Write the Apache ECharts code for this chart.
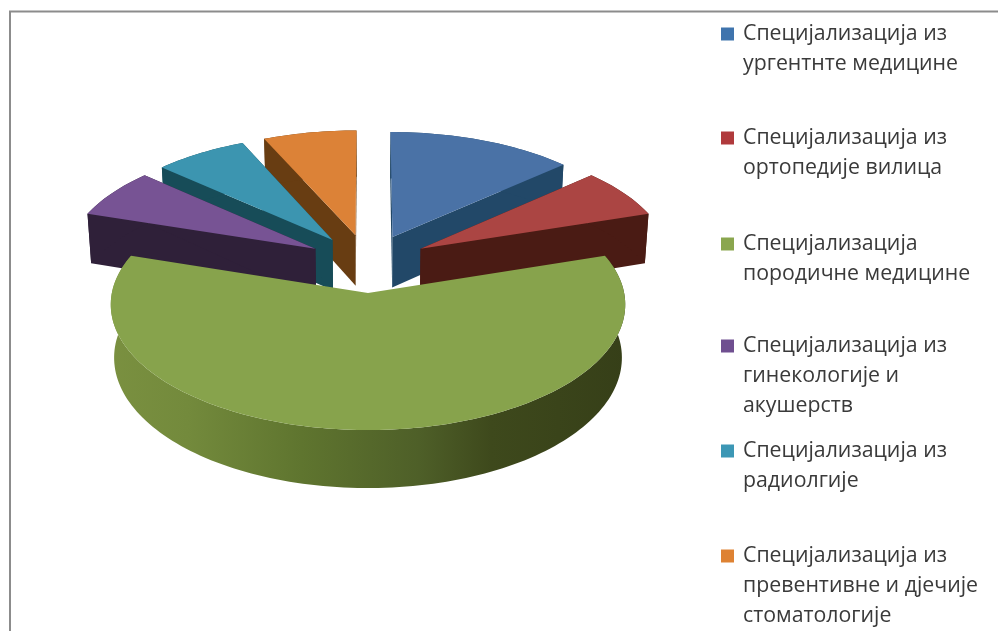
<!DOCTYPE html>
<html><head><meta charset="utf-8">
<style>html,body{margin:0;padding:0;background:#fff}#c{width:998px;height:631px}</style>
<script src="https://cdn.jsdelivr.net/npm/echarts@6/dist/echarts.min.js"></script>
</head><body><div id="c"></div>
<script>
const categories = [
  'Специјализација из ургентнте медицине',
  'Специјализација из ортопедије вилица',
  'Специјализација породичне медицине',
  'Специјализација из гинекологије и акушерств',
  'Специјализација из радиолгије',
  'Специјализација из превентивне и дјечије стоматологије'
];
const values = [2, 1, 9, 1, 1, 1];
const legendLines = [
  ['Специјализација из', 'ургентнте медицине'],
  ['Специјализација из', 'ортопедије вилица'],
  ['Специјализација', 'породичне медицине'],
  ['Специјализација из', 'гинекологије и', 'акушерств'],
  ['Специјализација из', 'радиолгије'],
  ['Специјализација из', 'превентивне и дјечије', 'стоматологије']
];
const topColors  = ['#4a72a6', '#ab4543', '#87a34c', '#775394', '#3c95b0', '#dc8237'];
const sideColors = ['#224868', '#4a1b14', '#5f752f', '#2f2039', '#174c58', '#683d12'];
const iconColors = ['#3f74ad', '#b03a3c', '#8aa64e', '#6f4f90', '#3c97b5', '#de8233'];
const legendCenters = [34, 138, 244, 346, 451, 556];
const drawOrder = [2, 3, 6, 5, 4, 1];   // painter order of the exploded slices

// projection of the pie plane
const P = {cx: 368, cy: 263.2, a: 250.5, b: 119, k: 0.09, e: 0.245, depth: 51.5, shrink: 0.987};
const total = values.reduce((s, v) => s + v, 0);
const starts = [];
values.reduce((acc, v, i) => { starts[i] = acc; return acc + v; }, 0);

function project(u, v, bottom) {
  const w = 1 - P.k * v;
  let x = P.a * u / w, y = P.b * v / w;
  if (bottom) { x *= P.shrink; y += P.depth / w; }
  return [P.cx + x, P.cy + y];
}
function pt(i, theta, r, bottom) {
  const a0 = starts[i] / total * 2 * Math.PI;
  const a1 = (starts[i] + values[i]) / total * 2 * Math.PI;
  const m = (a0 + a1) / 2;
  const u = P.e * Math.sin(m) + r * Math.sin(theta);
  const v = -P.e * Math.cos(m) - r * Math.cos(theta);
  return project(u, v, bottom);
}
function slice(i) {
  const a0 = starts[i] / total * 2 * Math.PI;
  const a1 = (starts[i] + values[i]) / total * 2 * Math.PI;
  const n = Math.max(8, Math.round((a1 - a0) * 40));
  const top = [], bot = [];
  for (let j = 0; j <= n; j++) {
    const t = a0 + (a1 - a0) * j / n;
    top.push(pt(i, t, 1, false));
    bot.push(pt(i, t, 1, true));
  }
  const apexT = pt(i, 0, 0, false), apexB = pt(i, 0, 0, true);
  return {top, bot, apexT, apexB};
}
const greenWall = new echarts.graphic.LinearGradient(0, 0, 1, 0, [
  {offset: 0, color: '#7a9040'}, {offset: 0.15, color: '#738a3c'},
  {offset: 0.37, color: '#5f752f'}, {offset: 0.6, color: '#4e5f28'},
  {offset: 0.74, color: '#3e491c'}, {offset: 1, color: '#363f18'}
]);
function renderSlice(i) {
  return function () {
    const s = slice(i);
    const side = i === 2 ? greenWall : sideColors[i];
    const wall = s.top.concat(s.bot.slice().reverse());
    const faceA = [s.apexT, s.top[0], s.bot[0], s.apexB];
    const faceB = [s.apexT, s.top[s.top.length - 1], s.bot[s.bot.length - 1], s.apexB];
    const children = [];
    if (i !== 2) {
      children.push({type: 'polygon', shape: {points: faceA}, style: {fill: side}});
      children.push({type: 'polygon', shape: {points: faceB}, style: {fill: side}});
    }
    children.push({type: 'polygon', shape: {points: wall}, style: {fill: side}});
    children.push({type: 'polygon', shape: {points: [s.apexT].concat(s.top)}, style: {fill: topColors[i]}});
    return {type: 'group', children};
  };
}
const chart = echarts.init(document.getElementById('c'));
chart.setOption({
  animation: false,
  backgroundColor: '#fff',
  graphic: [{
    type: 'polyline', silent: true,
    shape: {points: [[10, 631], [10, 11.5], [998, 11.5]]},
    style: {stroke: '#8c8c8c', lineWidth: 2, fill: null}
  }],
  legend: categories.map((name, i) => ({
    data: [name],
    left: 721,
    top: legendCenters[i] - 75,
    padding: 0,
    orient: 'vertical',
    selectedMode: false,
    icon: 'rect',
    itemWidth: 13,
    itemHeight: 13,
    formatter: () => {
      const L = legendLines[i];
      return ['', ''].concat(L, ['', '', ''].slice(L.length)).join('\n');
    },
    textStyle: {fontFamily: 'Open Sans', fontSize: 21.3, lineHeight: 30, color: '#3a3a3a', padding: [0, 0, 0, 4]}
  })),
  series: categories.map((name, i) => ({
    type: 'custom',
    name,
    coordinateSystem: 'none',
    silent: true,
    z: 2 + drawOrder[i],
    itemStyle: {color: iconColors[i]},
    data: [values[i]],
    renderItem: renderSlice(i)
  }))
});
</script></body></html>
